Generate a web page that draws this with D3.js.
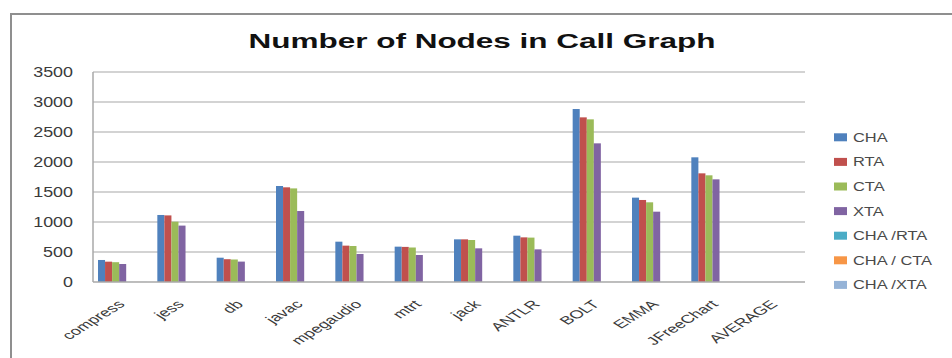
<!DOCTYPE html>
<html>
<head>
<meta charset="utf-8">
<script src="https://cdn.jsdelivr.net/npm/d3@7/dist/d3.min.js"></script>
<style>
  html, body { margin: 0; padding: 0; background: #ffffff; }
  svg { display: block; }
  text { font-family: "Liberation Sans", Arial, sans-serif; }
</style>
</head>
<body>
<svg id="chart" width="952" height="358"></svg>
<script>
// ---- Data ----
const categories = ["compress", "jess", "db", "javac", "mpegaudio", "mtrt", "jack", "ANTLR", "BOLT", "EMMA", "JFreeChart", "AVERAGE"];
const seriesNames = ["CHA", "RTA", "CTA", "XTA", "CHA /RTA", "CHA / CTA", "CHA /XTA"];
const CHA      = [367, 1117, 405, 1600, 672, 589, 711, 772, 2883, 1406, 2078, null];
const RTA      = [339, 1110, 380, 1578, 606, 585, 711, 744, 2744, 1367, 1811, null];
const CTA      = [330, 1005, 375, 1560, 600, 575, 700, 740, 2711, 1328, 1778, null];
const XTA      = [300,  940, 340, 1183, 467, 450, 561, 544, 2311, 1172, 1711, null];
const CHA_RTA  = [1.08, 1.01, 1.07, 1.01, 1.11, 1.01, 1.00, 1.04, 1.05, 1.03, 1.15, 1.05];
const CHA_CTA  = [1.11, 1.11, 1.08, 1.03, 1.12, 1.02, 1.02, 1.04, 1.06, 1.06, 1.17, 1.07];
const CHA_XTA  = [1.22, 1.19, 1.19, 1.35, 1.44, 1.31, 1.27, 1.42, 1.25, 1.20, 1.21, 1.28];
const yTicks   = [0, 500, 1000, 1500, 2000, 2500, 3000, 3500];
const colors   = ["#4F81BD", "#C0504D", "#9BBB59", "#8064A2", "#4BACC6", "#F79646", "#95B3D7"];
const titleText = "Number of Nodes in Call Graph";

const seriesValues = [CHA, RTA, CTA, XTA, CHA_RTA, CHA_CTA, CHA_XTA];

// ---- Layout ----
const svg = d3.select("#chart");
const plot = { left: 93, right: 805, top: 72, bottom: 282 };

// chart frame
svg.append("rect")
  .attr("x", 11).attr("y", 14)
  .attr("width", 960).attr("height", 360)
  .attr("fill", "#ffffff")
  .attr("stroke", "#8f8f8f").attr("stroke-width", 2);

// title
svg.append("text")
  .attr("transform", "translate(482,48) scale(1.5,1)")
  .attr("text-anchor", "middle")
  .attr("font-size", 21).attr("font-weight", "bold")
  .attr("fill", "#111111")
  .text(titleText);

const x0 = d3.scaleBand().domain(categories).range([plot.left, plot.right]).padding(0);
const gapHalf = 5;
const x1 = d3.scaleBand().domain(seriesNames).range([gapHalf, x0.bandwidth() - gapHalf]).padding(0);
const y = d3.scaleLinear().domain([0, 3500]).range([plot.bottom, plot.top]);

// gridlines
svg.append("g").selectAll("line").data(yTicks.filter(d => d > 0)).join("line")
  .attr("x1", plot.left).attr("x2", plot.right)
  .attr("y1", d => y(d)).attr("y2", d => y(d))
  .attr("stroke", "#c4c4c4").attr("stroke-width", 1.5);

// y-axis tick labels
svg.append("g").selectAll("text").data(yTicks).join("text")
  .attr("transform", d => `translate(73,${y(d) + 5}) scale(1.28,1)`)
  .attr("text-anchor", "end")
  .attr("font-size", 14)
  .attr("fill", "#3a3a3a")
  .text(d => d);

// bars
const groups = svg.append("g").selectAll("g").data(categories).join("g")
  .attr("transform", d => `translate(${x0(d)},0)`);
groups.selectAll("rect")
  .data((c, i) => seriesNames.map((s, k) => ({ s, k, v: seriesValues[k][i] })).filter(d => d.v != null))
  .join("rect")
  .attr("x", d => x1(d.s))
  .attr("width", x1.bandwidth())
  .attr("y", d => y(d.v))
  .attr("height", d => y(0) - y(d.v))
  .attr("fill", d => colors[d.k]);

// axis lines
svg.append("line")
  .attr("x1", plot.left).attr("x2", plot.left)
  .attr("y1", plot.top).attr("y2", plot.bottom)
  .attr("stroke", "#a8a8a8").attr("stroke-width", 1.5);
svg.append("line")
  .attr("x1", plot.left).attr("x2", plot.right)
  .attr("y1", plot.bottom).attr("y2", plot.bottom)
  .attr("stroke", "#a8a8a8").attr("stroke-width", 1.5);

// x labels (rotated)
svg.append("g").selectAll("text").data(categories).join("text")
  .attr("transform", d => `translate(${x0(d) + x0.bandwidth() / 2 + 3},305) scale(1.6,1) rotate(-45)`)
  .attr("text-anchor", "end")
  .attr("font-size", 11.5)
  .attr("fill", "#3a3a3a")
  .text(d => d);

// legend
const leg = svg.append("g").selectAll("g").data(seriesNames).join("g")
  .attr("transform", (d, i) => `translate(834,${137.3 + i * 24.6})`);
leg.append("rect")
  .attr("x", 0).attr("y", -4).attr("width", 13).attr("height", 8)
  .attr("fill", (d, i) => colors[i]);
leg.append("text")
  .attr("transform", "translate(19,4.5) scale(1.37,1)")
  .attr("font-size", 12)
  .attr("fill", "#4a4a4a")
  .text(d => d);
</script>
</body>
</html>
